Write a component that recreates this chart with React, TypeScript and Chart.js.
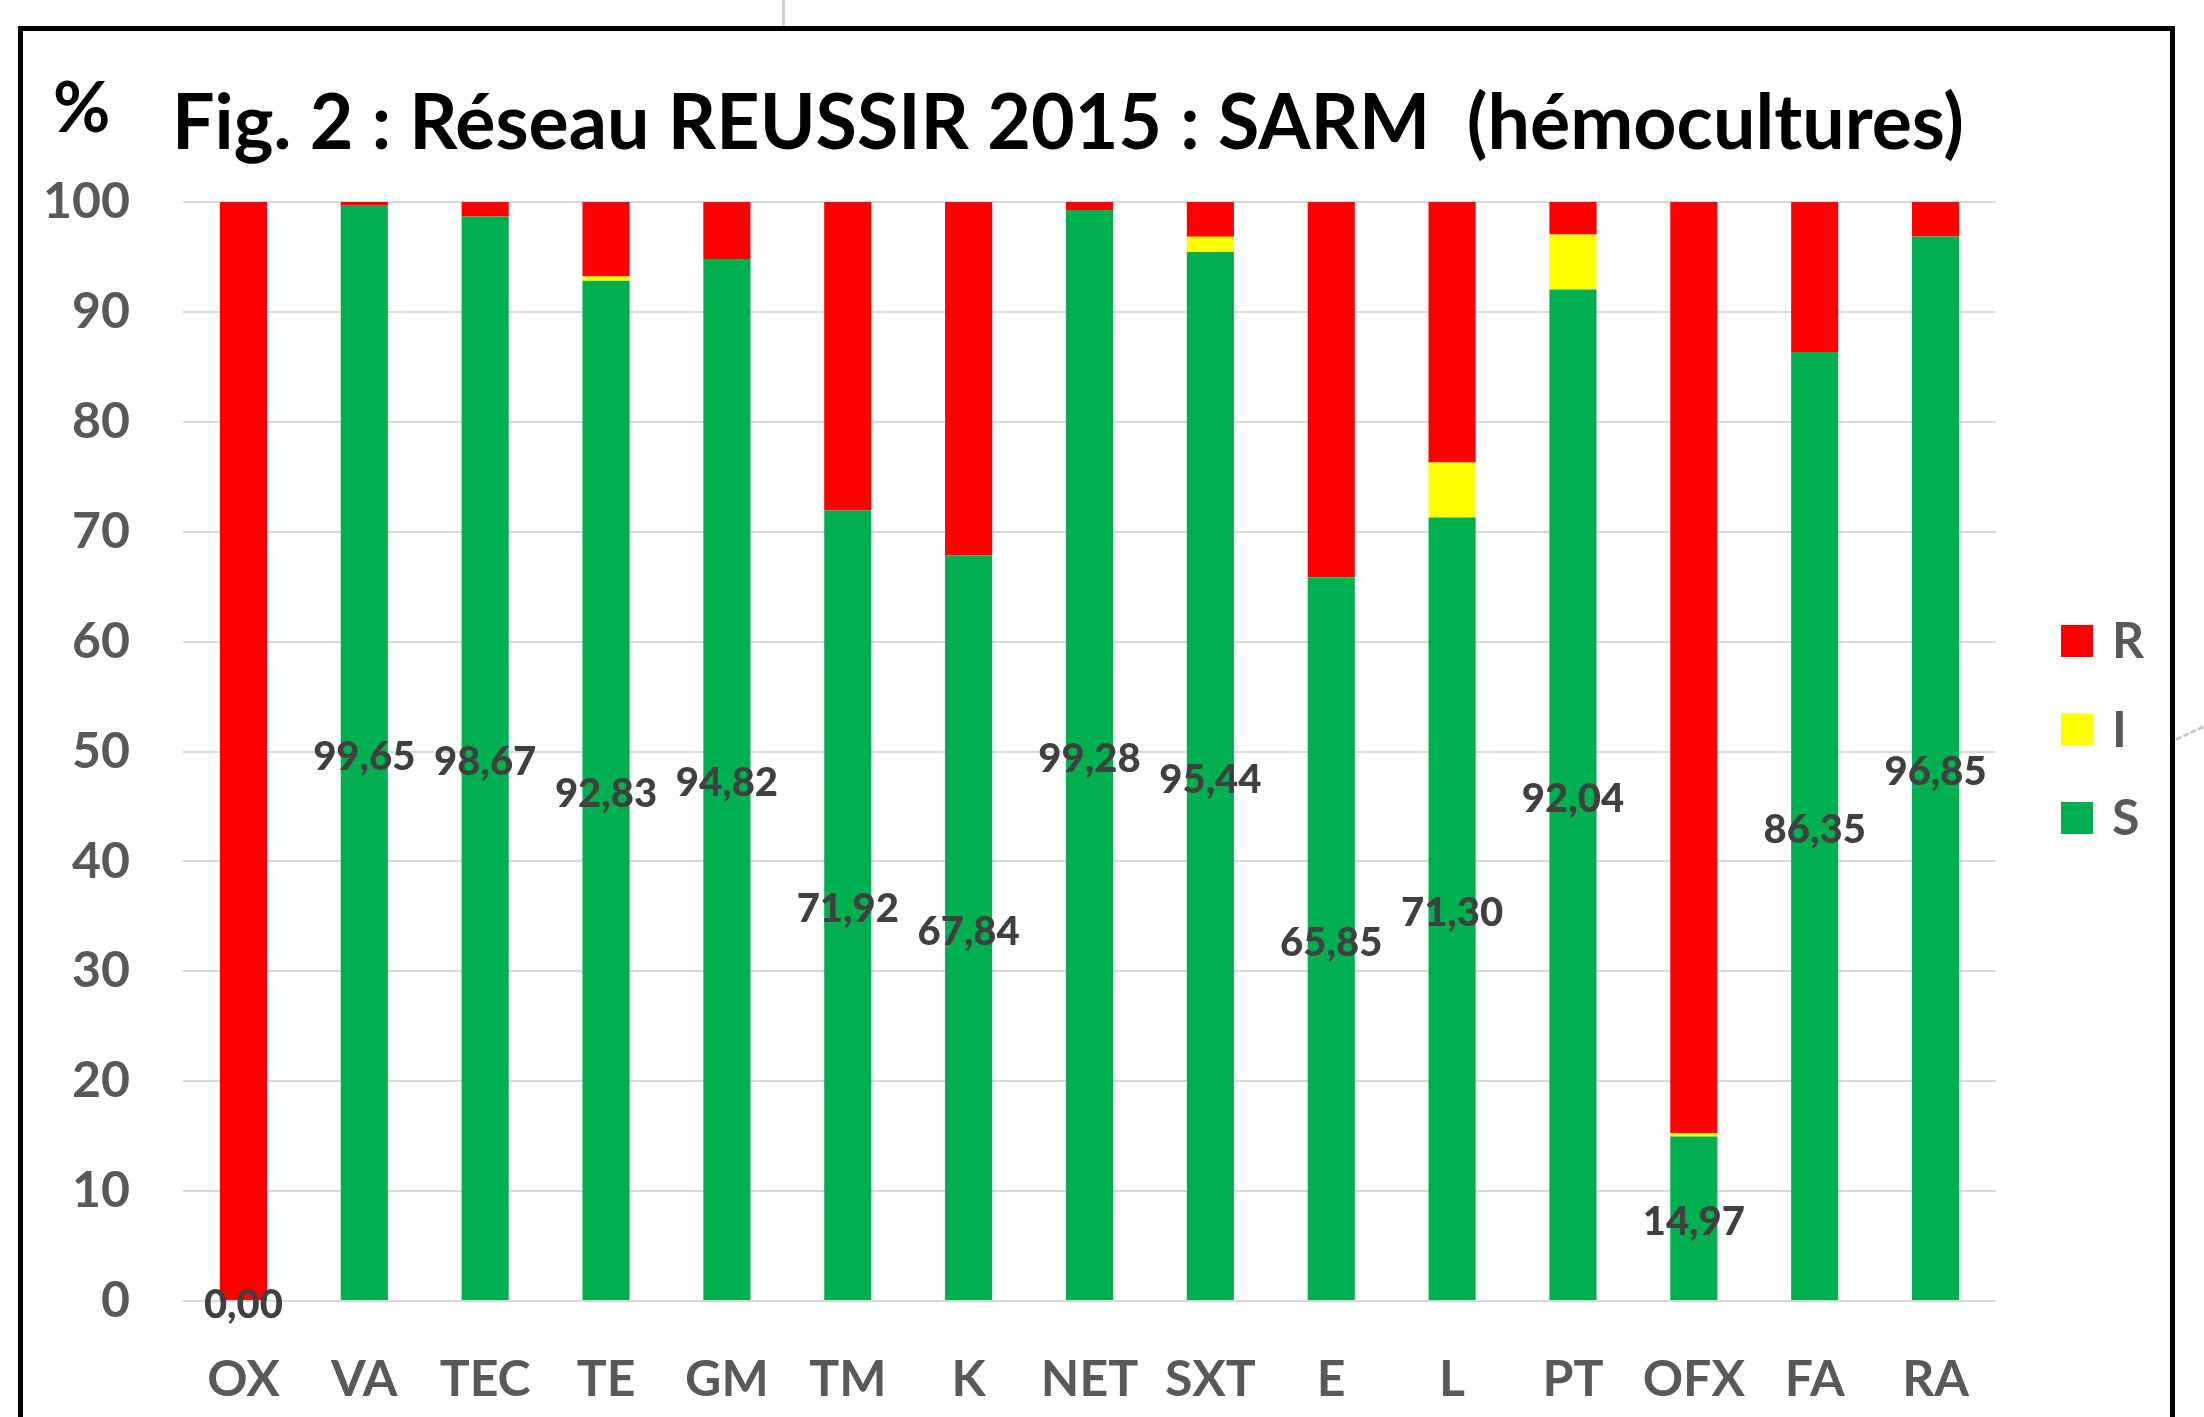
import React, { useEffect, useRef } from "react";
import { Chart, registerables } from "chart.js";

Chart.register(...registerables);

const CATEGORIES = ["OX", "VA", "TEC", "TE", "GM", "TM", "K", "NET", "SXT", "E", "L", "PT", "OFX", "FA", "RA"];
const S_VALUES = [0, 99.65, 98.67, 92.83, 94.82, 71.92, 67.84, 99.28, 95.44, 65.85, 71.3, 92.04, 14.97, 86.35, 96.85];
const I_VALUES = [0, 0, 0, 0.4, 0, 0, 0, 0, 1.4, 0, 5.0, 5.0, 0.3, 0, 0];
const R_VALUES = [100, 0.35, 1.33, 6.77, 5.18, 28.08, 32.16, 0.72, 3.16, 34.15, 23.7, 2.96, 84.73, 13.65, 3.15];
const Y_TICKS = [0, 10, 20, 30, 40, 50, 60, 70, 80, 90, 100];
const LEGEND_LABELS = ["R", "I", "S"];

const TITLE = "Fig. 2 : Réseau REUSSIR 2015 : SARM  (hémocultures)";
const Y_UNIT = "%";

const GREEN = "#00B050";
const YELLOW = "#FFFF00";
const RED = "#FF0000";
const FONT = "Lato";
const TICK_COLOR = "#595959";

const fmt = (v: number) => v.toFixed(2).replace(".", ",");

const overlay = {
  id: "overlay",
  afterDatasetsDraw(chart: any) {
    const ctx = chart.ctx as CanvasRenderingContext2D;
    const meta = chart.getDatasetMeta(0);
    ctx.save();
    ctx.font = `900 40px ${FONT}`;
    ctx.fillStyle = "#404040";
    ctx.textAlign = "center";
    ctx.textBaseline = "middle";
    meta.data.forEach((bar: any, i: number) => {
      const p = bar.getProps(["x", "y", "base"], true);
      ctx.fillText(fmt(S_VALUES[i]), p.x, (p.y + p.base) / 2 + 4);
    });
    ctx.restore();
  },
  afterDraw(chart: any) {
    const ctx = chart.ctx as CanvasRenderingContext2D;
    const area = chart.chartArea;
    ctx.save();
    // title
    ctx.fillStyle = "#000000";
    ctx.textAlign = "left";
    ctx.textBaseline = "alphabetic";
    ctx.font = `bold 76px ${FONT}`;
    ctx.fillText(TITLE, 172, 149, 1792);
    ctx.font = `bold 70px ${FONT}`;
    ctx.fillText(Y_UNIT, 53, 132, 58);
    // legend
    const colors = [RED, YELLOW, GREEN];
    const x0 = area.right + 65;
    const centerY = area.top + 527.5;
    const step = 88.5;
    ctx.font = `bold 50px ${FONT}`;
    ctx.textBaseline = "middle";
    LEGEND_LABELS.forEach((lab, i) => {
      const cy = centerY + (i - 1) * step;
      ctx.fillStyle = colors[i];
      ctx.fillRect(x0, cy - 16, 32, 32);
      ctx.fillStyle = TICK_COLOR;
      ctx.fillText(lab, x0 + 51, cy + 1);
    });
    ctx.restore();
  },
};

export default function App() {
  const ref = useRef<HTMLCanvasElement | null>(null);
  useEffect(() => {
    if (!ref.current) return;
    const chart = new Chart(ref.current, {
      type: "bar",
      data: {
        labels: CATEGORIES,
        datasets: [
          { label: "S", data: S_VALUES, backgroundColor: GREEN, borderWidth: 0 },
          { label: "I", data: I_VALUES, backgroundColor: YELLOW, borderWidth: 0 },
          { label: "R", data: R_VALUES, backgroundColor: RED, borderWidth: 0 },
        ],
      },
      options: {
        responsive: false,
        animation: false,
        devicePixelRatio: 1,
        datasets: { bar: { categoryPercentage: 1, barPercentage: 0.39 } },
        layout: { padding: { top: 202, right: 208, bottom: 0, left: 0 } },
        plugins: {
          legend: { display: false },
          title: { display: false },
          tooltip: { enabled: false },
        },
        scales: {
          x: {
            stacked: true,
            grid: { display: false, drawTicks: false },
            border: { display: false },
            ticks: {
              color: TICK_COLOR,
              font: { family: FONT, size: 50, weight: "bold" },
              padding: 49,
              maxRotation: 0,
              autoSkip: false,
            },
            afterFit: (s: any) => {
              s.height = 116;
            },
          },
          y: {
            stacked: true,
            min: 0,
            max: 100,
            afterBuildTicks: (s: any) => {
              s.ticks = Y_TICKS.map((v) => ({ value: v }));
            },
            grid: { color: "#D9D9D9", lineWidth: 2, drawTicks: false },
            border: { display: false },
            ticks: {
              color: TICK_COLOR,
              font: { family: FONT, size: 50, weight: "bold" },
              padding: 53,
            },
            afterFit: (s: any) => {
              s.width = 183;
            },
          },
        },
      },
      plugins: [overlay],
    });
    return () => chart.destroy();
  }, []);

  return (
    <div style={{ position: "fixed", left: 0, top: 0, width: 2204, height: 1417, background: "#fff", overflow: "hidden" }}>
      <canvas ref={ref} width={2204} height={1417} style={{ position: "absolute", left: 0, top: 0, width: 2204, height: 1417 }} />
      <div
        style={{
          position: "absolute",
          left: 18,
          top: 26,
          width: 2147,
          height: 1400,
          borderTop: "5px solid #000",
          borderLeft: "5px solid #000",
          borderRight: "5px solid #000",
          pointerEvents: "none",
        }}
      />
      <div style={{ position: "absolute", left: 782, top: 0, width: 3, height: 26, background: "#D0D0D0" }} />
      <div
        style={{
          position: "absolute",
          left: 2176,
          top: 738,
          width: 30,
          height: 0,
          borderTop: "3px dashed #C8C8C8",
          transform: "rotate(-25deg)",
          transformOrigin: "left center",
        }}
      />
    </div>
  );
}
